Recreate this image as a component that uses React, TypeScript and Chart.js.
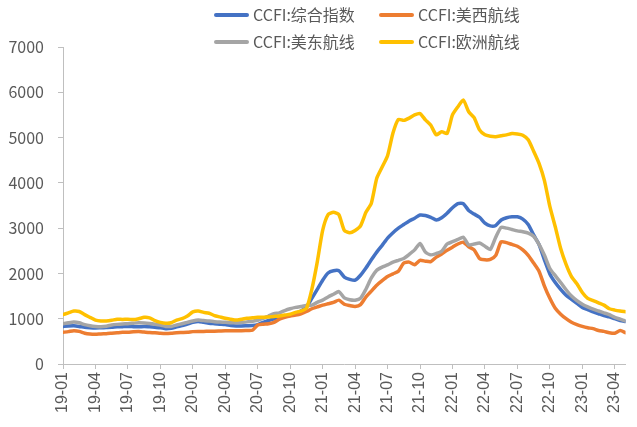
import React, { useEffect, useRef } from "react";
import { Chart, registerables } from "chart.js";

Chart.register(...registerables);

// Series names and colours (legend order)
const seriesNames = ["CCFI:综合指数", "CCFI:美西航线", "CCFI:美东航线", "CCFI:欧洲航线"];
const seriesColors = ["#4472C4", "#ED7D31", "#A5A5A5", "#FFC000"];

// X tick labels (one per quarter, starting 2019-01)
const tickLabels = [
  "19-01", "19-04", "19-07", "19-10",
  "20-01", "20-04", "20-07", "20-10",
  "21-01", "21-04", "21-07", "21-10",
  "22-01", "22-04", "22-07", "22-10",
  "23-01", "23-04",
];

// Values sampled every half month from 2019-01 to 2023-05
const composite = [
  830, 840, 845, 830, 810, 800, 795, 800, 805, 810,
  820, 825, 830, 825, 820, 830, 820, 810, 800, 780,
  790, 820, 850, 880, 920, 940, 920, 900, 890, 880,
  870, 850, 840, 840, 845, 850, 870, 920, 960, 1000,
  1030, 1060, 1080, 1120, 1170, 1260, 1450, 1650, 1850, 2010,
  2060, 2060, 1920, 1870, 1850, 1960, 2120, 2300, 2470, 2620,
  2780, 2900, 3000, 3080, 3160, 3220, 3290, 3280, 3240, 3180,
  3230, 3330, 3450, 3540, 3540, 3390, 3310, 3240, 3110, 3050,
  3060, 3180, 3230, 3250, 3250, 3200, 3080, 2850, 2640, 2300,
  1990, 1800, 1650, 1520, 1430, 1340, 1250, 1200, 1150, 1110,
  1070, 1040, 1000, 960, 940,
];

const usWest = [
  700, 715, 735, 720, 680, 660, 655, 665, 670, 680,
  690, 700, 700, 710, 715, 705, 695, 690, 680, 675,
  680, 690, 695, 700, 715, 720, 720, 725, 725, 730,
  735, 735, 735, 735, 740, 745, 860, 880, 890, 920,
  990, 1030, 1060, 1080, 1110, 1160, 1220, 1260, 1300, 1330,
  1360, 1410, 1320, 1290, 1270, 1310, 1480, 1610, 1740, 1840,
  1930, 1990, 2050, 2230, 2250, 2190, 2290, 2270, 2260, 2360,
  2430, 2510, 2580, 2650, 2690, 2590, 2520, 2330, 2300, 2310,
  2400, 2700, 2680, 2640, 2600, 2520, 2400, 2230, 2050, 1720,
  1450, 1230, 1100, 1000, 920, 870, 830, 800, 780, 740,
  720, 690, 680, 740, 690,
];

const usEast = [
  890, 910, 925, 910, 870, 845, 830, 825, 835, 860,
  875, 885, 890, 900, 910, 905, 895, 880, 860, 830,
  830, 860, 890, 920, 950, 970, 960, 950, 935, 925,
  920, 910, 910, 920, 930, 945, 965, 1010, 1060, 1110,
  1130, 1180, 1220, 1250, 1270, 1290, 1300, 1360, 1410, 1480,
  1540, 1600, 1460, 1420, 1410, 1450, 1650, 1900, 2070, 2140,
  2190, 2250, 2290, 2330, 2420, 2520, 2660, 2470, 2410, 2440,
  2490, 2650, 2700, 2750, 2800, 2630, 2650, 2670, 2600, 2530,
  2800, 3020, 3000, 2970, 2940, 2920, 2890, 2820, 2640, 2400,
  2110, 1950, 1800, 1640, 1500, 1400, 1320, 1260, 1210, 1170,
  1130, 1090, 1030, 990, 950,
];

const europe = [
  1090, 1130, 1170, 1160, 1090, 1030, 970, 950, 950, 965,
  990, 985, 990, 980, 1000, 1030, 1020, 960, 920, 900,
  910, 970, 1000, 1060, 1150, 1170, 1140, 1120, 1070, 1040,
  1010, 990, 970, 990, 1010, 1020, 1030, 1030, 1040, 1050,
  1060, 1080, 1100, 1140, 1170, 1230, 1650, 2250, 2950, 3300,
  3350, 3300, 2950, 2900, 2950, 3050, 3350, 3550, 4100, 4350,
  4600, 5100, 5400, 5380, 5430, 5500, 5530, 5390, 5270, 5060,
  5130, 5090, 5500, 5680, 5830, 5570, 5440, 5170, 5060, 5030,
  5020, 5040, 5060, 5090, 5080, 5050, 4950, 4700, 4430, 4050,
  3480, 3030, 2550, 2200, 1930, 1770, 1580, 1450, 1400, 1350,
  1300, 1220, 1190, 1170, 1155,
];

const seriesValues = [composite, usWest, usEast, europe];
const MONTHS_PER_SAMPLE = 0.5;
const quarterPositions = tickLabels.map((_, i) => i * 3);

const legendPlugin = {
  id: "customLegend",
  afterDraw(chart: any) {
    const ctx = chart.ctx as CanvasRenderingContext2D;
    const colX = [216, 381];
    const rowY = [15, 42];
    ctx.save();
    ctx.font = '16px "Noto Sans CJK SC", sans-serif';
    ctx.textBaseline = "middle";
    ctx.textAlign = "left";
    seriesNames.forEach((name, i) => {
      const x = colX[i % 2];
      const y = rowY[Math.floor(i / 2)];
      ctx.strokeStyle = seriesColors[i];
      ctx.lineWidth = 4;
      ctx.lineCap = "round";
      ctx.beginPath();
      ctx.moveTo(x, y);
      ctx.lineTo(x + 31, y);
      ctx.stroke();
      ctx.fillStyle = "#595959";
      ctx.fillText(name, x + 37, y);
    });
    ctx.restore();
  },
};

export default function App() {
  const canvasRef = useRef<HTMLCanvasElement | null>(null);

  useEffect(() => {
    const canvas = canvasRef.current;
    if (!canvas) return;
    const drawOrder = [4, 3, 2, 1];
    const chart = new Chart(canvas, {
      type: "line",
      data: {
        datasets: seriesNames.map((name, i) => ({
          label: name,
          data: seriesValues[i].map((v, j) => ({ x: j * MONTHS_PER_SAMPLE, y: v })),
          borderColor: seriesColors[i],
          backgroundColor: seriesColors[i],
          borderWidth: 3.5,
          pointRadius: 0,
          tension: 0.2,
          borderJoinStyle: "round" as const,
          borderCapStyle: "round" as const,
          order: drawOrder[i],
        })),
      },
      options: {
        responsive: false,
        animation: false,
        devicePixelRatio: 1,
        layout: { padding: { top: 47, right: 2, left: 0, bottom: 0 } },
        plugins: {
          legend: { display: false },
          tooltip: { enabled: false },
        },
        scales: {
          x: {
            type: "linear",
            min: 0,
            max: 52,
            afterBuildTicks: (axis: any) => {
              axis.ticks = quarterPositions.map((v) => ({ value: v }));
            },
            afterFit: (scale: any) => {
              scale.height = 63;
            },
            ticks: {
              autoSkip: false,
              maxRotation: 90,
              minRotation: 90,
              padding: 3,
              color: "#595959",
              font: { family: '"Liberation Sans", Arial, sans-serif', size: 16 },
              callback: (value: any) => {
                const idx = quarterPositions.indexOf(Number(value));
                return idx >= 0 ? tickLabels[idx] : "";
              },
            },
            grid: {
              display: true,
              drawOnChartArea: false,
              drawTicks: true,
              tickLength: 5,
              color: "#BFBFBF",
            },
            border: { display: true, color: "#BFBFBF", width: 1 },
          },
          y: {
            min: 0,
            max: 7000,
            afterFit: (scale: any) => {
              scale.width = 63;
            },
            ticks: {
              stepSize: 1000,
              padding: 14,
              color: "#595959",
              font: { family: '"Noto Sans CJK SC", "Noto Sans", sans-serif', size: 16 },
              callback: (value: any) => String(value),
            },
            grid: {
              display: true,
              drawOnChartArea: false,
              drawTicks: true,
              tickLength: 5,
              color: "#BFBFBF",
            },
            border: { display: true, color: "#BFBFBF", width: 1 },
          },
        },
      },
      plugins: [legendPlugin],
    });
    return () => chart.destroy();
  }, []);

  return (
    <div style={{ position: "absolute", left: 0, top: 0, width: 637, height: 427, background: "#fff" }}>
      <canvas ref={canvasRef} width={637} height={427} style={{ display: "block", width: 637, height: 427 }} />
    </div>
  );
}
